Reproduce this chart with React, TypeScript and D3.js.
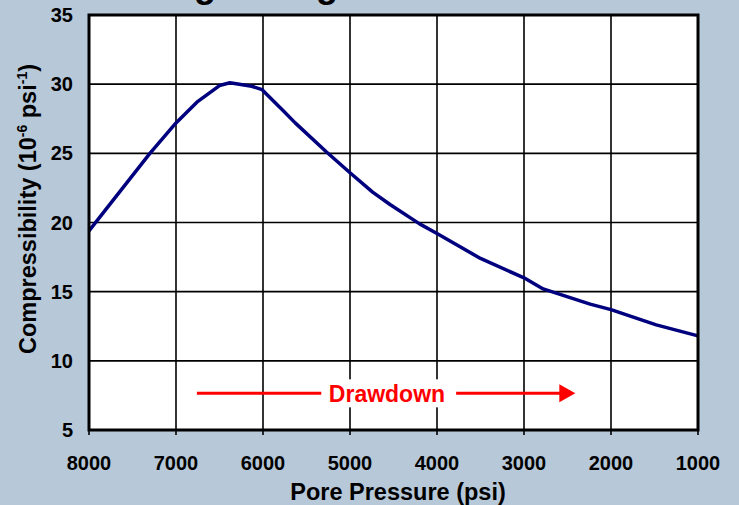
import React from "react";
import * as d3 from "d3";

const pressure = [8000, 7300, 7000, 6760, 6500, 6380, 6130, 6010, 5770, 5630, 5270, 5000, 4740, 4540, 4200, 4000, 3500, 3000, 2780, 2240, 2000, 1480, 1000];
const compress = [19.4, 25.0, 27.2, 28.7, 29.9, 30.1, 29.85, 29.6, 28.1, 27.2, 25.1, 23.6, 22.2, 21.3, 19.9, 19.2, 17.4, 16.0, 15.2, 14.1, 13.7, 12.6, 11.8];
const xTicks = [8000, 7000, 6000, 5000, 4000, 3000, 2000, 1000];
const yTicks = [5, 10, 15, 20, 25, 30, 35];
const arrowLabel = "Drawdown";
const arrowFrom = [6760, 5330];
const arrowTo = [3780, 2410];
const arrowY = 7.65;
const arrowTextX = 4575;

const W = 739, H = 505;
const FONT = "Arial, 'Liberation Sans', Helvetica, sans-serif";

export default function App() {
  const x = d3.scaleLinear().domain([8000, 1000]).range([89, 698]);
  const y = d3.scaleLinear().domain([5, 35]).range([430, 15]);
  const data = pressure.map((p, i) => [p, compress[i]] as [number, number]);
  const line = d3.line<[number, number]>().x(d => x(d[0])).y(d => y(d[1]));
  const ay = y(arrowY);
  const [x0, x1] = x.range();
  const [yb, yt] = y.range();
  return (
    <svg width={W} height={H} style={{ position: "absolute", left: 0, top: 0, display: "block" }} fontFamily={FONT}>
      <rect x={0} y={0} width={W} height={H} fill="#b7c8d8" />
      <text x={216} y={-3} fontSize={36} fontWeight="bold" fill="#000" textAnchor="end">Rock Softening</text>
      <text x={226} y={-3} fontSize={36} fontWeight="bold" fill="#000" textAnchor="start"> during Drawdown</text>
      <rect x={x0} y={yt} width={x1 - x0} height={yb - yt} fill="#fff" />
      {xTicks.map(t => (
        <line key={"gx" + t} x1={x(t)} x2={x(t)} y1={yt} y2={yb + 5} stroke="#000" strokeWidth={1.6} />
      ))}
      {yTicks.map(t => (
        <line key={"gy" + t} x1={x0} x2={x1} y1={y(t)} y2={y(t)} stroke="#000" strokeWidth={1.6} />
      ))}
      {/* arrow annotation */}
      <rect x={x(arrowTextX) - 66} y={ay - 14} width={132} height={28} fill="#fff" />
      <line x1={x(arrowFrom[0])} x2={x(arrowFrom[1])} y1={ay} y2={ay} stroke="#ff0000" strokeWidth={3} />
      <line x1={x(arrowTo[0])} x2={x(arrowTo[1]) - 14} y1={ay} y2={ay} stroke="#ff0000" strokeWidth={3} />
      <path d={`M${x(arrowTo[1])},${ay} L${x(arrowTo[1]) - 16},${ay - 9} L${x(arrowTo[1]) - 16},${ay + 9} Z`} fill="#ff0000" />
      <text x={x(arrowTextX)} y={ay + 9} fontSize={23} fontWeight="bold" fill="#ff0000" textAnchor="middle">{arrowLabel}</text>
      <path d={line(data) || ""} fill="none" stroke="#00007f" strokeWidth={3.5} strokeLinejoin="round" />
      <rect x={x0} y={yt} width={x1 - x0} height={yb - yt} fill="none" stroke="#000" strokeWidth={3} />
      {yTicks.map(t => (
        <text key={"ly" + t} x={73} y={y(t) + 7} fontSize={20} fontWeight="bold" textAnchor="end" fill="#000">{t}</text>
      ))}
      {xTicks.map(t => (
        <text key={"lx" + t} x={x(t)} y={470} fontSize={20} fontWeight="bold" textAnchor="middle" fill="#000">{t}</text>
      ))}
      <text x={398} y={500} fontSize={23.5} fontWeight="bold" textAnchor="middle" fill="#000">Pore Pressure (psi)</text>
      <text transform={`translate(36,209) rotate(-90)`} fontSize={23.5} fontWeight="bold" textAnchor="middle" fill="#000">
        Compressibility (10<tspan fontSize={14} dy={-9}>-6</tspan><tspan dy={9}> psi</tspan><tspan fontSize={14} dy={-9}>-1</tspan><tspan dy={9}>)</tspan>
      </text>
    </svg>
  );
}
